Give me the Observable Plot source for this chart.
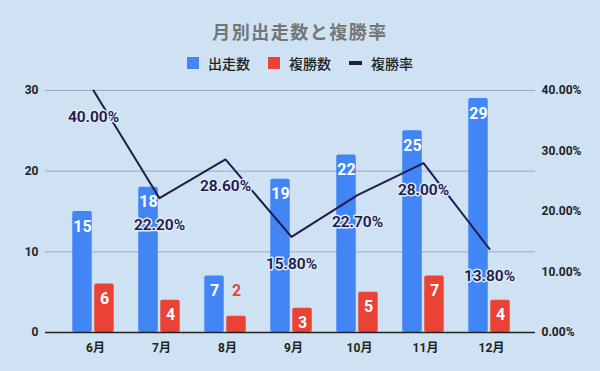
<!DOCTYPE html>
<html><head><meta charset="utf-8">
<script src="https://cdn.jsdelivr.net/npm/d3@7"></script>
<script src="https://cdn.jsdelivr.net/npm/@observablehq/plot@0.6"></script>
<style>
body{margin:0;background:#cfe2f3;}
#wrap{position:relative;width:600px;height:371px;background:#cfe2f3;font-family:Roboto,"Noto Sans CJK JP",sans-serif;overflow:hidden;}
#title{position:absolute;top:18px;left:0;width:600px;text-align:center;font-size:18px;font-weight:bold;color:#757575;font-family:"Noto Sans CJK JP",sans-serif;letter-spacing:1.5px;}
#legend{position:absolute;top:53px;left:0;width:600px;display:flex;justify-content:center;gap:18px;font-size:14px;font-weight:500;color:#222;font-family:"Noto Sans CJK JP",sans-serif;}
.item{display:flex;align-items:center;gap:9px;}
.sw{width:12px;height:12px;display:inline-block;}
.ln{width:13px;height:4px;display:inline-block;background:#22194f;}
#chart{position:absolute;top:0;left:0;}
</style>
</head><body>
<div id="wrap">
  <div id="title">月別出走数と複勝率</div>
  <div id="legend"></div>
  <div id="chart"></div>
</div>
<script>
const months = ["6月","7月","8月","9月","10月","11月","12月"];
const runs = [15, 18, 7, 19, 22, 25, 29];
const places = [6, 4, 2, 3, 5, 7, 4];
const rates = [40.00, 22.20, 28.60, 15.80, 22.70, 28.00, 13.80];
const seriesNames = ["出走数", "複勝数", "複勝率"];
const colors = ["#4285f4", "#ea4335", "#22194f"];

const ratio = 30 / 40; // right axis 0–40% maps onto left axis 0–30
const data = months.map((m, i) => ({month: m, runs: runs[i], places: places[i], rate: rates[i]}));

const legend = document.getElementById("legend");
seriesNames.forEach((n, i) => {
  const it = document.createElement("div");
  it.className = "item";
  const s = document.createElement("span");
  s.className = i < 2 ? "sw" : "ln";
  s.style.background = colors[i];
  it.appendChild(s);
  const t = document.createElement("span");
  t.textContent = n;
  it.appendChild(t);
  legend.appendChild(it);
});

const halo = "#dde9f5";
const chart = Plot.plot({
  width: 600,
  height: 371,
  marginTop: 90,
  marginBottom: 39,
  marginLeft: 45,
  marginRight: 65,
  style: {background: "transparent", fontFamily: "Roboto, 'Noto Sans CJK JP', sans-serif", color: "#222"},
  x: {domain: months, padding: 0, insetLeft: 12.75, insetRight: 11.75, label: null},
  y: {domain: [0, 30], label: null},
  marks: [
    Plot.ruleY([10, 20, 30], {stroke: "#9aabbf", strokeWidth: 1}),
    Plot.axisY({ticks: [0, 10, 20, 30], tickSize: 0, tickPadding: 7, fontSize: 12, fontWeight: "bold", label: null}),
    Plot.axisY({anchor: "right", ticks: [0, 7.5, 15, 22.5, 30], tickFormat: d => (d / ratio).toFixed(2) + "%", tickSize: 0, tickPadding: 6, fontSize: 12, fontWeight: "bold", label: null}),
    Plot.axisX({tickSize: 0, tickPadding: 11, fontSize: 12, fontWeight: "bold", dx: 2, label: null}),
    Plot.barY(data, {x: "month", y: "runs", fill: colors[0], insetLeft: 12.25, insetRight: 34.25, rx: 2}),
    Plot.barY(data, {x: "month", y: "places", fill: colors[1], insetLeft: 34.25, insetRight: 12.25, rx: 2}),
    Plot.ruleY([0], {stroke: "#222", strokeWidth: 1.5}),
    Plot.text(data, {x: "month", y: "runs", text: d => String(d.runs), dx: -11, dy: 15, fill: "white", fontSize: 16, fontWeight: "bold"}),
    Plot.text(data.filter(d => d.places >= 3), {x: "month", y: "places", text: d => String(d.places), dx: 11, dy: 15, fill: "white", fontSize: 16, fontWeight: "bold"}),
    Plot.text(data.filter(d => d.places < 3), {x: "month", y: "places", text: d => String(d.places), dx: 11, dy: -25, fill: colors[1], fontSize: 16, fontWeight: "bold"}),
    Plot.line(data, {x: "month", y: d => d.rate * ratio, stroke: colors[2], strokeWidth: 2}),
    Plot.text(data, {x: "month", y: d => d.rate * ratio, text: d => d.rate.toFixed(2) + "%", dy: 27, fill: colors[2], stroke: halo, strokeWidth: 3, paintOrder: "stroke", fontSize: 15.5, fontWeight: 600})
  ]
});
document.getElementById("chart").appendChild(chart);
</script>
</body></html>
